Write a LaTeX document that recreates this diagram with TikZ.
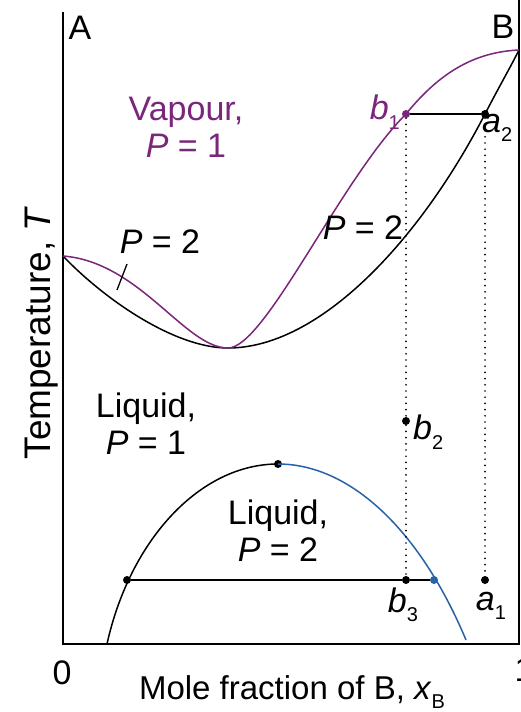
\documentclass[tikz,border=0pt]{standalone}
\usepackage{fontspec}
\setmainfont{Liberation Sans}
\definecolor{vap}{RGB}{122,38,122}
\definecolor{liqb}{RGB}{42,98,168}
\newcommand\lowsub[1]{\raisebox{-0.28em}{\fontsize{20}{20}\selectfont #1}}
\tikzset{
  axisline/.style={line width=1.4pt, black},
  curve/.style={line width=1.5pt},
  tie/.style={line width=1.5pt, black},
  guide/.style={line width=1.9pt, black, line cap=round, dash pattern=on 0pt off 6.2pt},
  dot/.style={circle, fill=#1, inner sep=0pt, minimum size=8pt},
  dot/.default=black,
  lbl/.style={font=\fontsize{34}{37}\selectfont, inner sep=0pt, align=center},
}
\begin{document}
\begin{tikzpicture}[x=1pt,y=-1pt]
\useasboundingbox (0,0) rectangle (520,712);
\clip (0,0) rectangle (520,712);
\fill[white] (0,0) rectangle (520,712);
% axes
\coordinate (o) at (63,644);
\coordinate (ltop) at (63,12);
\coordinate (rbot) at (519,644);
\coordinate (rtop) at (519,0);
\draw[axisline] (ltop) -- (o) -- (rbot) -- (rtop);
% key points
\coordinate (L) at (63,256);
\coordinate (M) at (228,348);
\coordinate (R) at (519,50);
\node[dot=vap] (b1) at (406,114) {};
\node[dot] (a2) at (485,114) {};
% upper black curve
\draw[curve, black] (L) .. controls (105,300) and (175,348) .. (M)
  .. controls (320,348) and (420,240) .. (a2.center)
  .. controls (500,85) and (510,68) .. (R);
% purple curve
\draw[curve, vap] (L) .. controls (140,262) and (185,348) .. (M)
  .. controls (265,348) and (340,180) .. (b1.center)
  .. controls (440,72) and (475,52) .. (R);
% lower curve
\coordinate (lb) at (107,644);
\coordinate (le) at (466,640);
\node[dot] (ll) at (127,580) {};
\node[dot] (crit) at (278,464) {};
\node[dot=liqb] (lr) at (434,580) {};
\draw[curve, black] (lb) .. controls (130,540) and (200,464) .. (crit.center);
\draw[curve, liqb] (crit.center) .. controls (350,464) and (420,530) .. (le);
% points
\node[dot] (b2) at (406,421) {};
\node[dot] (b3) at (406,580) {};
\node[dot] (a1) at (485,580) {};
% tie lines
\draw[tie] (b1) -- (a2);
\draw[tie] (ll) -- (b3) -- (lr);
% dotted verticals
\draw[guide] (b1) -- (b2) -- (b3);
\draw[guide] (a2) -- (a1);
% tick
\coordinate (tk1) at (117,290);
\coordinate (tk2) at (127,264);
\draw[line width=1.3pt] (tk1) -- (tk2);
% labels
\node[lbl, vap] (vapour) at (186,127) {Vapour,\\\textit{P} = 1};
\node[lbl] (p2l) at (160,242) {\textit{P} = 2};
\node[lbl] (p2r) at (363,228) {\textit{P} = 2};
\node[lbl] (liq1) at (146,424) {Liquid,\\\textit{P} = 1};
\node[lbl] (liq2) at (278,531) {Liquid,\\\textit{P} = 2};
\node[lbl, anchor=center] (A) at (80,28) {A};
\node[lbl, anchor=center] (B) at (503,27) {B};
\node[lbl, vap, anchor=east] (b1l) at (400,112) {\textit{b}\lowsub{1}};
\node[lbl, anchor=west] (a2l) at (482,128) {\textit{a}\lowsub{2}};
\node[lbl, anchor=west] (b2l) at (413,432) {\textit{b}\lowsub{2}};
\node[lbl, anchor=center] (b3l) at (403,605) {\textit{b}\lowsub{3}};
\node[lbl, anchor=center] (a1l) at (491,606) {\textit{a}\lowsub{1}};
\node[lbl] (zero) at (62,673) {0};
\node[lbl] (one) at (524,670) {1};
\node[lbl, font=\fontsize{33}{36}\selectfont] (xlab) at (292,692) {Mole fraction of B, \textit{x}\lowsub{B}};
\node[lbl, font=\fontsize{37}{40}\selectfont, rotate=90] (ylab) at (42,333) {Temperature, \textit{T}};
\end{tikzpicture}
\end{document}
